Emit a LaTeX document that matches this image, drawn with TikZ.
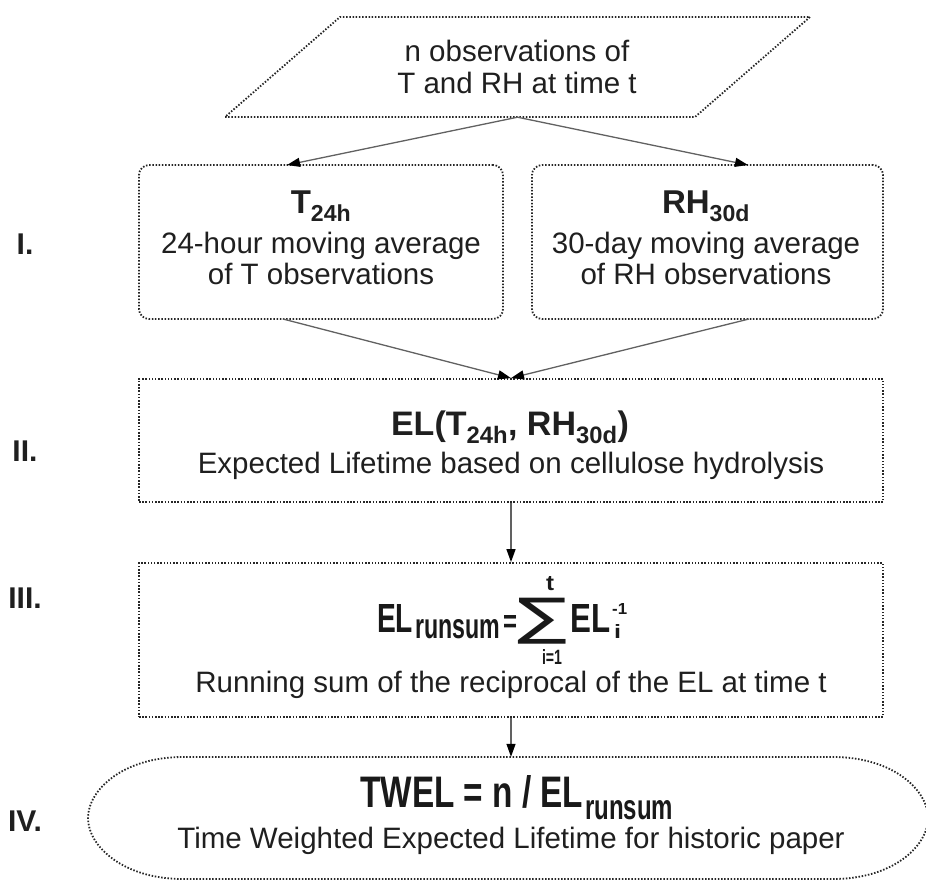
\documentclass[tikz,border=0pt]{standalone}
\usepackage{fontspec}
\usepackage{graphicx}
\setmainfont{Liberation Sans}
\newfontfamily\symf{DejaVu Sans}
\usetikzlibrary{arrows.meta,calc}
\begin{document}
\begin{tikzpicture}[x=1pt,y=-1pt,
  dotline/.style={draw=black!85, line width=1.8pt, dash pattern=on 1.5pt off 1.7pt},
  box/.style={dotline, rectangle, inner sep=0pt},
  conn/.style={draw=black!62, line width=1.3pt, -{Triangle[length=13pt,width=9pt,color=black]}},
  txt/.style={anchor=base, inner sep=0pt, text=black!88, font=\fontsize{29.5}{32}\selectfont},
  hd/.style={anchor=base, inner sep=0pt, text=black!88, font=\fontsize{33}{36}\selectfont\bfseries},
  fm/.style={anchor=base west, inner sep=0pt, text=black!90, font=\fontsize{30}{30}\selectfont\bfseries},
  lbl/.style={anchor=base, inner sep=0pt, text=black!88, font=\fontsize{30}{32}\selectfont\bfseries},
  ghost/.style={inner sep=0pt, rectangle},
]
\useasboundingbox (0,0) rectangle (926,879);

% top parallelogram
\draw[dotline] (225,117) -- (695,117) -- (810,17) -- (340,17) -- cycle;
\node[ghost, minimum width=585pt, minimum height=100pt] (p) at (517.5,67) {};
\node[txt] (p1) at (517,61) {n observations of};
\node[txt] (p2) at (517,93) {T and RH at time t};

% stage I boxes
\node[box, rounded corners=10pt, minimum width=364pt, minimum height=154pt] (b1) at (321,242) {};
\node[box, rounded corners=10pt, minimum width=351pt, minimum height=154pt] (b2) at (707.5,242) {};
\node[hd] (t1) at (321,213) {T\textsubscript{24h}};
\node[txt] (t2) at (321,253) {24-hour moving average};
\node[txt] (t3) at (321,284) {of T observations};
\node[hd] (r1) at (706,213) {RH\textsubscript{30d}};
\node[txt] (r2) at (706,253) {30-day moving average};
\node[txt] (r3) at (706,284) {of RH observations};

% stage II
\node[box, minimum width=744pt, minimum height=123pt] (b3) at (511,440.5) {};
\node[hd, font=\fontsize{34}{38}\selectfont\bfseries] (e1) at (510,435) {EL(T\textsubscript{24h}, RH\textsubscript{30d})};
\node[txt] (e2) at (511,473) {Expected Lifetime based on cellulose hydrolysis};

% stage III
\node[box, minimum width=744pt, minimum height=154pt] (b4) at (511,640) {};
\node[fm] (f1) at (377,632) {\resizebox{36pt}{28pt}{EL}};
\node[fm] (f2) at (415,638) {\resizebox{85pt}{19pt}{runsum}};
\node[fm] (f3) at (503,632) {\resizebox{14pt}{17pt}{=}};
\node[inner sep=0pt, text=black!90] (f4) at (542.5,621) {\resizebox*{50pt}{46pt}{\symf ∑}};
\node[fm, anchor=base] (f5) at (550,590) {\resizebox{8pt}{14pt}{t}};
\node[fm, anchor=base] (f6) at (552,664) {\resizebox{20pt}{15pt}{i=1}};
\node[fm] (f7) at (570,632) {\resizebox{40pt}{28pt}{EL}};
\node[fm] (f8) at (612,614) {\resizebox{15pt}{11pt}{-1}};
\node[fm] (f9) at (614,638) {\resizebox{7pt}{14pt}{i}};
\node[txt] (g2) at (511,692) {Running sum of the reciprocal of the EL at time t};

% stage IV
\draw[dotline] (183,757) -- (833,757) .. controls (893,757) and (928,790) .. (928,818)
  .. controls (928,846) and (893,879) .. (833,879) -- (183,879)
  .. controls (123,879) and (88,846) .. (88,818) .. controls (88,790) and (123,757) .. (183,757) -- cycle;
\node[ghost, minimum width=840pt, minimum height=122pt] (el) at (508,818) {};
\node[fm] (w1) at (360,807) {\resizebox{223pt}{32pt}{TWEL = n / EL}};
\node[fm] (w2) at (585,819) {\resizebox{88pt}{19pt}{runsum}};
\node[txt] (w3) at (511,848) {Time Weighted Expected Lifetime for historic paper};

% labels
\node[lbl] (L1) at (25,254) {I.};
\node[lbl] (L2) at (25,461) {II.};
\node[lbl] (L3) at (25,608) {III.};
\node[lbl] (L4) at (25,831) {IV.};

% connectors
\coordinate (a1) at (287,165);
\coordinate (a2) at (748,165);
\coordinate (c1) at (283,319);
\coordinate (c2) at (749,319);
\draw[conn] (p.south) -- (a1);
\draw[conn] (p.south) -- (a2);
\draw[conn] (c1) -- (b3.north);
\draw[conn] (c2) -- (b3.north);
\draw[conn] (b3.south) -- (b4.north);
\draw[conn] (b4.south) -- (b4.south |- el.north);
\end{tikzpicture}
\end{document}
